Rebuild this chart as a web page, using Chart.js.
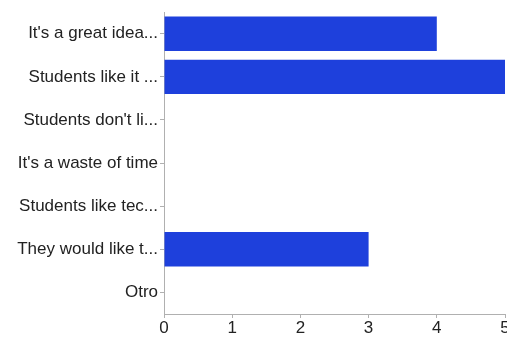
<!DOCTYPE html>
<html>
<head>
<meta charset="utf-8">
<script src="https://cdn.jsdelivr.net/npm/chart.js@4"></script>
<style>
  html, body { margin: 0; padding: 0; background: #fff; overflow: hidden; }
  #wrap { width: 507px; height: 338px; }
</style>
</head>
<body>
<div id="wrap"><canvas id="grafico"></canvas></div>
<script>
// respuestas de la encuesta
const categorias = [
    "It's a great idea...",
    "Students like it ...",
    "Students don't li...",
    "It's a waste of time",
    "Students like tec...",
    "They would like t...",
    "Otro"
];
const respuestas = [4, 5, 0, 0, 0, 3, 0];
const marcasX = [0, 1, 2, 3, 4, 5];

const ctx = document.getElementById('grafico').getContext('2d');

new Chart(ctx, {
    type: 'bar',
    data: {
        labels: categorias,
        datasets: [{
            data: respuestas,
            backgroundColor: '#1e40dc',
            borderWidth: 0,
            barPercentage: 1,
            categoryPercentage: 0.8
        }]
    },
    options: {
        indexAxis: 'y',
        responsive: true,
        maintainAspectRatio: false,
        animation: false,
        layout: { padding: { top: 8, right: 2, left: 0, bottom: 0 } },
        plugins: { legend: { display: false }, tooltip: { enabled: false } },
        scales: {
            x: {
                min: 0,
                max: 5,
                afterBuildTicks: (s) => { s.ticks = marcasX.map(v => ({ value: v })); },
                afterFit: (s) => { s.height = 24; s.paddingRight = 0; s.paddingLeft = 0; },
                grid: { display: true, drawOnChartArea: false, tickLength: 4, color: '#b0b0b0' },
                border: { color: '#b0b0b0' },
                ticks: { color: '#222', padding: 0, font: { family: 'Liberation Sans', size: 17 } }
            },
            y: {
                afterFit: (s) => { s.width = 164; },
                grid: { display: true, offset: false, drawOnChartArea: false, tickLength: 4, color: '#b0b0b0' },
                border: { color: '#b0b0b0' },
                ticks: { color: '#222', padding: 2, font: { family: 'Liberation Sans', size: 17 } }
            }
        }
    }
});
</script>
</body>
</html>
